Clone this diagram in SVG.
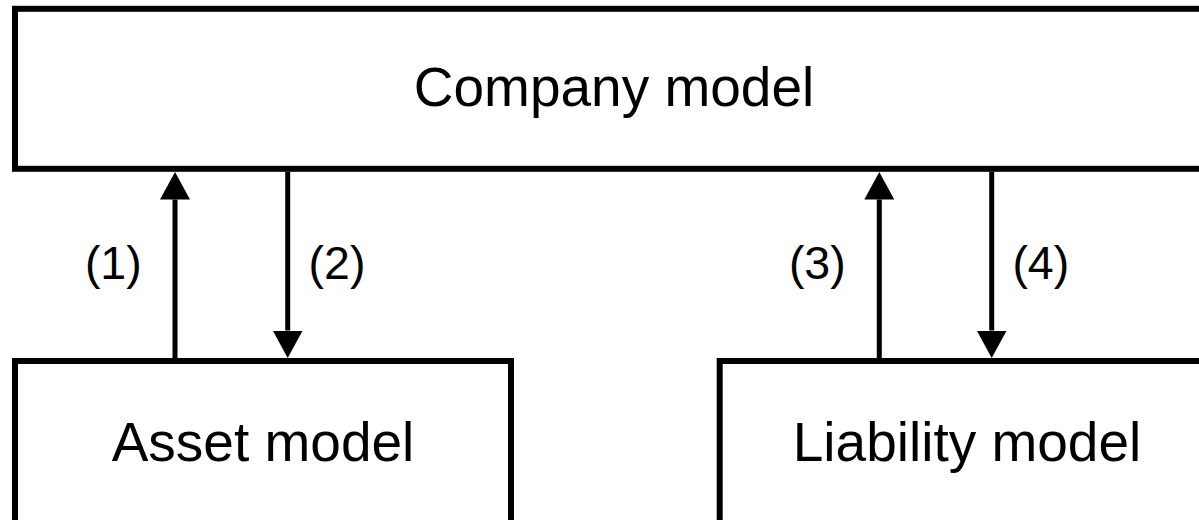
<svg xmlns="http://www.w3.org/2000/svg" width="1199" height="520" viewBox="0 0 1199 520">
  <style>
    .box { fill: #ffffff; stroke: #000000; stroke-width: 6; }
    .lbl { font-family: "Liberation Sans", Arial, sans-serif; font-size: 55px; fill: #000000; text-anchor: middle; }
    .num { font-family: "Liberation Sans", Arial, sans-serif; font-size: 46.5px; fill: #000000; text-anchor: middle; }
    .conn { stroke: #000000; stroke-width: 5; fill: none; marker-end: url(#arrow); }
  </style>
  <defs>
    <marker id="arrow" markerUnits="userSpaceOnUse" markerWidth="28" markerHeight="30" refX="0" refY="15" orient="auto" viewBox="0 0 28 30">
      <path d="M0,0 L27.5,15 L0,30 Z" fill="#000000"/>
    </marker>
  </defs>
  <rect x="0" y="0" width="1199" height="520" fill="#ffffff"/>
  <g id="company">
    <rect class="box" x="15" y="8.8" width="1198" height="160"/>
    <text class="lbl" x="614" y="106">Company model</text>
  </g>
  <g id="asset">
    <rect class="box" x="15" y="361" width="496" height="320"/>
    <text class="lbl" x="263" y="461">Asset model</text>
  </g>
  <g id="liability">
    <rect class="box" x="719.7" y="361" width="494" height="320"/>
    <text class="lbl" x="967" y="461">Liability model</text>
  </g>
  <g id="connectors">
    <line class="conn" x1="175" y1="358" x2="175" y2="199.5"/>
    <line class="conn" x1="287.7" y1="171.7" x2="287.7" y2="330.5"/>
    <line class="conn" x1="879.3" y1="358" x2="879.3" y2="199.5"/>
    <line class="conn" x1="991.7" y1="171.7" x2="991.7" y2="330.5"/>
    <text class="num" x="113.3" y="279">(1)</text>
    <text class="num" x="337" y="279">(2)</text>
    <text class="num" x="817.3" y="279">(3)</text>
    <text class="num" x="1040.8" y="279">(4)</text>
  </g>
</svg>
